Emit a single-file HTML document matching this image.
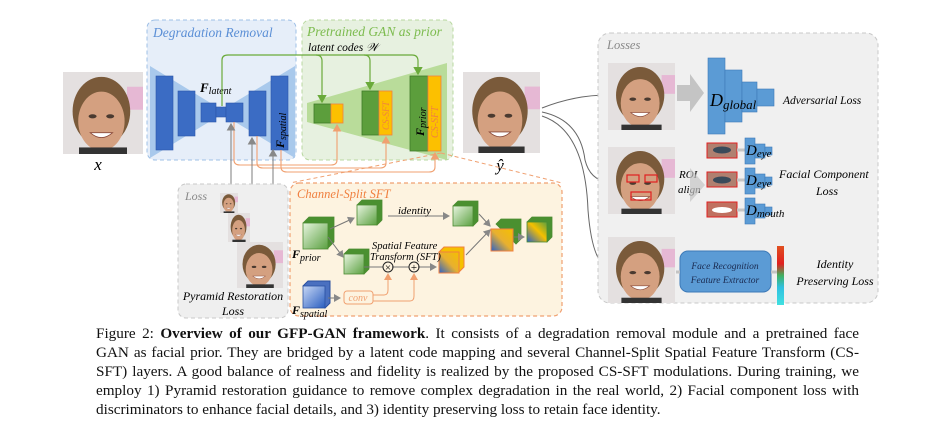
<!DOCTYPE html>
<html><head><meta charset="utf-8"><style>
body{margin:0;background:#fff;width:933px;height:426px;overflow:hidden;position:relative}
svg{position:absolute;left:0;top:0}
.cap{position:absolute;left:96px;top:324px;width:763px;font:15.2px/19px "Liberation Serif",serif;color:#111}
.cap div{text-align:justify;text-align-last:justify;white-space:nowrap}
.cap div.l{text-align-last:left}
</style></head><body>
<svg width="933" height="426" viewBox="0 0 933 426" font-family="Liberation Serif, serif">
<defs>
<symbol id="face" viewBox="0 0 100 100" preserveAspectRatio="none">
<rect width="100" height="100" fill="#e4e0e0"/>
<rect x="80" y="18" width="20" height="28" fill="#e6b8d4"/>
<ellipse cx="48" cy="48" rx="36" ry="42" fill="#7a5a3a"/>
<ellipse cx="48" cy="60" rx="29" ry="36" fill="#d4a080"/>
<rect x="20" y="92" width="60" height="8" fill="#333"/>
<ellipse cx="37" cy="54" rx="5" ry="2.5" fill="#4a3a30"/>
<ellipse cx="59" cy="54" rx="5" ry="2.5" fill="#4a3a30"/>
<path d="M34 74 Q48 86 62 74 Z" fill="#fff" stroke="#8a4a3a"/>
</symbol>
<marker id="ag" markerWidth="8" markerHeight="8" refX="6" refY="4" orient="auto"><path d="M0,0 L7,4 L0,8z" fill="#6aaa3a"/></marker>
<marker id="ao" markerWidth="8" markerHeight="8" refX="6" refY="4" orient="auto"><path d="M0,0 L7,4 L0,8z" fill="#f0a070"/></marker>
<marker id="ak" markerWidth="8" markerHeight="8" refX="6" refY="4" orient="auto"><path d="M0,0 L7,4 L0,8z" fill="#888"/></marker>
<linearGradient id="gc" x1="0" y1="0" x2="1" y2="1"><stop offset="0" stop-color="#e8f5e0"/><stop offset="1" stop-color="#5aa040"/></linearGradient>
<linearGradient id="bc" x1="0" y1="0" x2="1" y2="1"><stop offset="0" stop-color="#c8d8f5"/><stop offset="1" stop-color="#2a5ec0"/></linearGradient>
<linearGradient id="mix" x1="1" y1="0" x2="0" y2="1"><stop offset="0" stop-color="#f5c000"/><stop offset=".5" stop-color="#e8b030"/><stop offset="1" stop-color="#2a60c8"/></linearGradient>
<linearGradient id="mix2" x1="1" y1="0" x2="0" y2="1"><stop offset="0" stop-color="#5aa040"/><stop offset=".45" stop-color="#f5c000"/><stop offset="1" stop-color="#2a60c8"/></linearGradient>
<linearGradient id="cb" x1="0" y1="0" x2="0" y2="1"><stop offset="0" stop-color="#e05020"/><stop offset=".3" stop-color="#e02020"/><stop offset=".5" stop-color="#40b060"/><stop offset=".7" stop-color="#30c0e0"/><stop offset="1" stop-color="#40e0e0"/></linearGradient>
</defs>

<use href="#face" x="63" y="72" width="80" height="82"/>
<text x="98" y="170" font-size="17" font-style="italic" text-anchor="middle">x</text>

<rect x="147" y="20" width="149" height="140" rx="8" fill="#e6eef9" stroke="#9fc0e6" stroke-dasharray="4 3"/>
<text x="153" y="37" font-size="13.5" font-style="italic" fill="#5b8fd6">Degradation Removal</text>
<path d="M150 66 L222 110 L295 66 L295 158 L222 114 L150 158Z" fill="#a9c9ec"/>
<g fill="#3b6cc4" stroke="#2c55a8" stroke-width=".6">
<rect x="156" y="76" width="17" height="74"/><rect x="178" y="91" width="17" height="45"/>
<rect x="201" y="103" width="15" height="19"/><rect x="216" y="107" width="10" height="10"/>
<rect x="226" y="103" width="17" height="19"/><rect x="249" y="91" width="17" height="45"/>
<rect x="271" y="76" width="17" height="74"/></g>
<text x="200" y="92" font-size="13" font-weight="bold" font-style="italic">F<tspan font-size="10" font-weight="normal" dy="2">latent</tspan></text>
<text transform="translate(284,148) rotate(-90)" font-size="12" font-style="italic" font-weight="bold">F<tspan font-size="10" font-weight="normal" dy="2">spatial</tspan></text>

<rect x="302" y="20" width="151" height="140" rx="8" fill="#e7f1e0" stroke="#b8d8a0" stroke-dasharray="4 3"/>
<text x="307" y="36" font-size="13.5" font-style="italic" fill="#7cbb4e">Pretrained GAN as prior</text>
<text x="308" y="51" font-size="11.5" font-style="italic">latent codes 𝒲</text>
<path d="M307 103 L447 63 L447 160 L307 122Z" fill="#b9dc9a"/>
<g stroke="#3f7a28" stroke-width=".8" fill="#5c9e3c">
<rect x="314" y="104" width="17" height="19"/><rect x="362" y="91" width="17" height="44"/><rect x="410" y="76" width="18" height="75"/></g>
<g stroke="#f08040" stroke-width=".8" fill="#fcc000">
<rect x="331" y="104" width="12" height="19"/><rect x="379" y="91" width="13" height="44"/><rect x="428" y="76" width="13" height="75"/></g>
<text transform="translate(389,130) rotate(-90)" font-size="9" font-style="italic" fill="#f08040">CS-SFT</text>
<text transform="translate(438,138) rotate(-90)" font-size="10" font-style="italic" fill="#f08040">CS-SFT</text>
<text transform="translate(424,136) rotate(-90)" font-size="12" font-style="italic" font-weight="bold">F<tspan font-size="10" font-weight="normal" dy="2">prior</tspan></text>

<g fill="none" stroke="#6aaa3a" stroke-width="1.2">
<path d="M222 106 V60 Q222 55 228 55 H316 Q322 55 322 61 V102" marker-end="url(#ag)"/>
<path d="M316 55 H364 Q370 55 370 61 V89" marker-end="url(#ag)"/>
<path d="M364 55 H412 Q418 55 418 61 V74" marker-end="url(#ag)"/>
</g>
<g fill="none" stroke="#f0a070" stroke-width="1.1">
<path d="M234 122 V160 Q234 165 240 165 H331 Q337 165 337 160 V125" marker-end="url(#ao)"/>
<path d="M257 136 V163 Q257 168 263 168 H380 Q386 168 386 163 V137" marker-end="url(#ao)"/>
<path d="M281 150 V167 Q281 172 287 172 H429 Q435 172 435 167 V153" marker-end="url(#ao)"/>
</g>
<g stroke="#888" stroke-width="1.1"><path d="M231 196 V124" marker-end="url(#ak)"/><path d="M252 216 V138" marker-end="url(#ak)"/><path d="M273 244 V150" marker-end="url(#ak)"/></g>

<use href="#face" x="463" y="72" width="77" height="81"/>
<text x="500" y="171" font-size="17" font-style="italic" text-anchor="middle">ŷ</text>

<g fill="none" stroke="#666" stroke-width="1"><path d="M542 108 Q575 95 608 95"/><path d="M542 112 Q580 120 585 160 Q590 180 608 182"/><path d="M542 116 Q585 130 588 210 Q592 262 608 268"/></g>

<rect x="598" y="33" width="280" height="270" rx="12" fill="#f0f0f0" stroke="#c8c8c8" stroke-dasharray="4 3"/>
<text x="607" y="49" font-size="12.5" font-style="italic" fill="#888">Losses</text>
<use href="#face" x="608" y="63" width="67" height="67"/>
<use href="#face" x="608" y="147" width="67" height="67"/>
<use href="#face" x="608" y="237" width="67" height="66"/>
<g fill="none" stroke="#e02020" stroke-width="1.2"><rect x="627" y="175" width="12" height="7"/><rect x="645" y="175" width="12" height="7"/><rect x="631" y="192" width="20" height="8"/></g>
<path d="M677 85 H690 V74 L704 93 L690 112 V101 H677Z" fill="#c4c4c4"/>
<g fill="#5b9bd5" stroke="#3d7ab8" stroke-width=".6">
<rect x="708" y="58" width="17" height="76"/><rect x="725" y="70" width="17" height="52"/><rect x="742" y="82" width="15" height="30"/><rect x="757" y="89" width="17" height="17"/></g>
<text x="710" y="106" font-size="18" font-style="italic">D<tspan font-size="13" dy="3">global</tspan></text>
<text x="783" y="104" font-size="11.5" font-style="italic">Adversarial Loss</text>
<text x="679" y="178" font-size="11" font-style="italic">ROI</text><text x="678" y="193" font-size="11" font-style="italic">align</text>
<path d="M690 168 L705 185 L690 202Z" fill="#c4c4c4" opacity=".7"/>
<g stroke="#e02020" stroke-width="1"><rect x="707" y="143" width="30" height="15" fill="#b08070"/><rect x="707" y="172" width="30" height="15" fill="#b08070"/><rect x="707" y="202" width="30" height="15" fill="#c07060"/></g>
<ellipse cx="722" cy="150" rx="9" ry="3.5" fill="#3a4a5a"/><ellipse cx="722" cy="180" rx="9" ry="3.5" fill="#3a4a5a"/><ellipse cx="722" cy="210" rx="10" ry="3" fill="#fff"/>
<g stroke="#c4c4c4" stroke-width="3"><path d="M737 150 H745"/><path d="M737 180 H745"/><path d="M737 210 H745"/></g>
<g fill="#5b9bd5" stroke="#3d7ab8" stroke-width=".6">
<rect x="745" y="138" width="10" height="26"/><rect x="755" y="144" width="10" height="14"/><rect x="765" y="147" width="7" height="8"/>
<rect x="745" y="168" width="10" height="26"/><rect x="755" y="174" width="10" height="14"/><rect x="765" y="177" width="7" height="8"/>
<rect x="745" y="198" width="10" height="26"/><rect x="755" y="204" width="10" height="14"/><rect x="765" y="207" width="7" height="8"/></g>
<text x="746" y="155" font-size="15" font-style="italic">D<tspan font-size="11" dy="2">eye</tspan></text>
<text x="746" y="185" font-size="15" font-style="italic">D<tspan font-size="11" dy="2">eye</tspan></text>
<text x="746" y="215" font-size="15" font-style="italic">D<tspan font-size="11" dy="2">mouth</tspan></text>
<text x="779" y="178" font-size="12" font-style="italic">Facial Component</text>
<text x="816" y="195" font-size="12" font-style="italic">Loss</text>
<rect x="680" y="251" width="91" height="41" rx="8" fill="#5b9bd5" stroke="#3d7ab8"/>
<text x="725" y="269" font-size="9.5" font-style="italic" text-anchor="middle" fill="#1a2a50">Face Recognition</text>
<text x="725" y="283" font-size="9.5" font-style="italic" text-anchor="middle" fill="#1a2a50">Feature Extractor</text>
<path d="M676 272 H680 M771 272 H778" stroke="#c4c4c4" stroke-width="3"/>
<rect x="777" y="246" width="7" height="59" fill="url(#cb)"/>
<text x="835" y="268" font-size="12" font-style="italic" text-anchor="middle">Identity</text>
<text x="835" y="285" font-size="12" font-style="italic" text-anchor="middle">Preserving Loss</text>

<rect x="178" y="184" width="110" height="134" rx="8" fill="#efefef" stroke="#c8c8c8" stroke-dasharray="4 3"/>
<text x="185" y="200" font-size="12" font-style="italic" fill="#888">Loss</text>
<use href="#face" x="220" y="193" width="18" height="20"/>
<use href="#face" x="228" y="213" width="22" height="29"/>
<use href="#face" x="237" y="242" width="46" height="46"/>
<text x="233" y="300" font-size="12" font-style="italic" text-anchor="middle">Pyramid Restoration</text>
<text x="233" y="315" font-size="12" font-style="italic" text-anchor="middle">Loss</text>

<path d="M441 153 L290 183 M441 153 L562 183" stroke="#f0a070" stroke-dasharray="4 3" fill="none"/>
<rect x="290" y="183" width="272" height="133" rx="9" fill="#fdf3e0" stroke="#f0a070" stroke-dasharray="4 3" stroke-width="1.2"/>
<text x="297" y="198" font-size="12.5" font-style="italic" fill="#f08040">Channel-Split SFT</text>
<g stroke="#4a8a30" stroke-width=".8">
<path d="M303 223 l6 -6 h25 v25 l-6 6z" fill="#4a9030"/><rect x="303" y="223" width="25" height="26" fill="url(#gc)"/>
<path d="M357 205 l5 -5 h20 v20 l-5 5z" fill="#4a9030"/><rect x="357" y="205" width="20" height="20" fill="url(#gc)"/>
<path d="M453 206 l5 -5 h20 v20 l-5 5z" fill="#4a9030"/><rect x="453" y="206" width="20" height="20" fill="url(#gc)"/>
<path d="M344 254 l5 -5 h20 v20 l-5 5z" fill="#4a9030"/><rect x="344" y="254" width="20" height="20" fill="url(#gc)"/>
<path d="M496 224 l5 -5 h20 v20 l-5 5z" fill="#4a9030"/>
<path d="M527 222 l5 -5 h20 v20 l-5 5z" fill="#4a9030"/><rect x="527" y="222" width="20" height="20" fill="url(#mix2)"/>
</g>
<path d="M439 252 l5 -5 h20 v20 l-5 5z" fill="#f5c000" stroke="#f08040"/><rect x="439" y="252" width="20" height="21" fill="url(#mix)" stroke="#f08040"/>
<rect x="491" y="229" width="22" height="22" fill="url(#mix)" stroke="#f08040"/>
<path d="M303 286 l5 -5 h22 v22 l-5 5z" fill="#4a70c0" stroke="#2a50a0"/><rect x="303" y="286" width="22" height="22" fill="url(#bc)" stroke="#2a50a0" stroke-width=".8"/>
<g stroke="#777" stroke-width="1" fill="none">
<path d="M330 229 L354 218" marker-end="url(#ak)"/><path d="M328 237 L343 257" marker-end="url(#ak)"/>
<path d="M388 216 H449" marker-end="url(#ak)"/>
<path d="M364 267 H383"/><path d="M392 267 H409"/><path d="M418 267 H436" marker-end="url(#ak)"/>
<path d="M466 255 L490 230" marker-end="url(#ak)"/><path d="M479 214 L490 226" marker-end="url(#ak)"/>
<path d="M514 237 H524" marker-end="url(#ak)"/>
<path d="M328 298 H340" marker-end="url(#ak)"/>
</g>
<circle cx="388" cy="267" r="5" fill="none" stroke="#222"/><text x="388" y="271" font-size="11" text-anchor="middle">×</text>
<circle cx="414" cy="267" r="5" fill="none" stroke="#222"/><text x="414" y="271" font-size="11" text-anchor="middle">+</text>
<text x="398" y="214" font-size="11" font-style="italic">identity</text>
<text x="372" y="249" font-size="10.5" font-style="italic">Spatial Feature</text>
<text x="370" y="260" font-size="10.5" font-style="italic">Transform (SFT)</text>
<rect x="344" y="291" width="29" height="13" rx="3" fill="none" stroke="#f0a070"/>
<text x="358" y="301" font-size="10" font-style="italic" fill="#f0a070" text-anchor="middle">conv</text>
<g fill="none" stroke="#f0a070" stroke-width="1"><path d="M373 295 H384 Q388 295 388 290 V274" marker-end="url(#ao)"/><path d="M373 301 H410 Q414 301 414 296 V274" marker-end="url(#ao)"/></g>
<text x="292" y="258" font-size="12" font-weight="bold" font-style="italic">F<tspan font-size="10" font-weight="normal" dy="3">prior</tspan></text>
<text x="292" y="314" font-size="12" font-weight="bold" font-style="italic">F<tspan font-size="10" font-weight="normal" dy="3">spatial</tspan></text>
</svg>
<div class="cap">
<div>Figure 2: <b>Overview of our GFP-GAN framework</b>. It consists of a degradation removal module and a pretrained face</div>
<div>GAN as facial prior. They are bridged by a latent code mapping and several Channel-Split Spatial Feature Transform (CS-</div>
<div>SFT) layers. A good balance of realness and fidelity is realized by the proposed CS-SFT modulations. During training, we</div>
<div>employ 1) Pyramid restoration guidance to remove complex degradation in the real world, 2) Facial component loss with</div>
<div class="l">discriminators to enhance facial details, and 3) identity preserving loss to retain face identity.</div>
</div>
</body></html>
